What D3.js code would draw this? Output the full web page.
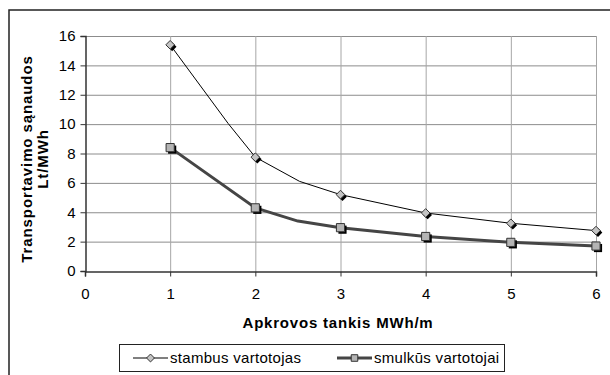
<!DOCTYPE html>
<html>
<head>
<meta charset="utf-8">
<script src="https://cdn.jsdelivr.net/npm/d3@7"></script>
<style>
  body { margin: 0; background: #fff; }
  svg { display: block; font-family: "Liberation Sans", Arial, sans-serif; }
</style>
</head>
<body>
<svg id="chart" width="610" height="375"></svg>
<script>
// stambus vartotojas (line passes a couple of unmarked bend points)
const stambusX = [1, 1.68, 2, 2.52, 3, 4, 5, 6];
const stambusY = [15.4, 10.05, 7.75, 6.1, 5.2, 3.95, 3.25, 2.75];
// smulkus vartotojai
const smulkusX = [1, 2, 2.5, 3, 4, 5, 6];
const smulkusY = [8.4, 4.3, 3.4, 2.95, 2.35, 1.95, 1.7];

const xTicks = [0, 1, 2, 3, 4, 5, 6];
const yTicks = [0, 2, 4, 6, 8, 10, 12, 14, 16];
const legendLabels = ['stambus vartotojas', 'smulkūs vartotojai'];

const svg = d3.select('#chart');
const margin = { top: 36, right: 14, bottom: 104, left: 85 };
const width = 610, height = 375;

const x = d3.scaleLinear().domain([0, 6]).range([margin.left, width - margin.right]);
const y = d3.scaleLinear().domain([0, 16]).range([height - margin.bottom, margin.top]);

// outer frame
svg.append('rect')
  .attr('x', 9).attr('y', 10)
  .attr('width', 620).attr('height', 400)
  .attr('fill', 'none').attr('stroke', '#222').attr('stroke-width', 1.5);

// grid
const grid = svg.append('g');
grid.selectAll('.hg').data(yTicks.filter(d => d > 0)).join('line')
  .attr('x1', x(0)).attr('x2', x(6))
  .attr('y1', d => y(d) + 0.5).attr('y2', d => y(d) + 0.5)
  .attr('stroke', '#8c8c8c').attr('stroke-width', 1);
grid.selectAll('.vg').data(xTicks.filter(d => d > 0)).join('line')
  .attr('x1', d => x(d) + 0.5).attr('x2', d => x(d) + 0.5)
  .attr('y1', y(16)).attr('y2', y(0))
  .attr('stroke', '#a6a6a6').attr('stroke-width', 1);

// axes
const xAxis = svg.append('g')
  .attr('transform', `translate(0,${y(0) + 0.5})`)
  .call(d3.axisBottom(x).tickValues(xTicks).tickSize(5).tickPadding(12).tickFormat(d3.format('d')));
const yAxis = svg.append('g')
  .attr('transform', `translate(${x(0) + 0.5},0)`)
  .call(d3.axisLeft(y).tickValues(yTicks).tickSize(5).tickPadding(5).tickFormat(d3.format('d')));
[xAxis, yAxis].forEach(g => {
  g.select('.domain').attr('stroke', '#333').attr('stroke-width', 1.5);
  g.selectAll('.tick line').attr('stroke', '#333');
  g.selectAll('.tick text').attr('fill', '#000').style('font-size', '15px')
    .style('font-family', '"Liberation Sans", Arial, sans-serif');
});

// axis titles
svg.append('text')
  .attr('x', 338).attr('y', 328)
  .attr('text-anchor', 'middle')
  .style('font-size', '15px').style('font-weight', 'bold')
  .style('letter-spacing', '0.8px')
  .text('Apkrovos tankis MWh/m');
const yTitle = svg.append('text')
  .attr('transform', 'translate(32,159) rotate(-90)')
  .attr('text-anchor', 'middle')
  .style('font-size', '15px').style('font-weight', 'bold')
  .style('letter-spacing', '0.9px');
yTitle.append('tspan').attr('x', 0).attr('y', 0).text('Transportavimo sąnaudos');
yTitle.append('tspan').attr('x', 0).attr('y', 16).text('Lt/MWh');

// lines
const stambus = stambusX.map((v, i) => ({ x: v, y: stambusY[i] }));
const smulkus = smulkusX.map((v, i) => ({ x: v, y: smulkusY[i] }));
const line = d3.line().x(d => x(d.x)).y(d => y(d.y));

svg.append('path').datum(smulkus)
  .attr('d', line).attr('fill', 'none')
  .attr('stroke', '#454545').attr('stroke-width', 3)
  .attr('stroke-linejoin', 'round');
svg.append('path').datum(stambus)
  .attr('d', line).attr('fill', 'none')
  .attr('stroke', '#000').attr('stroke-width', 1)
  .attr('stroke-linejoin', 'round');

// markers (only at whole x values)
const diamond = d3.symbol().type(d3.symbolDiamond2).size(48);
const square = d3.symbol().type(d3.symbolSquare2).size(85);

function markers(data, sym, fill) {
  const g = svg.append('g');
  const pts = data.filter(d => Number.isInteger(d.x));
  g.selectAll('.sh').data(pts).join('path')
    .attr('d', sym)
    .attr('transform', d => `translate(${x(d.x) + 2},${y(d.y) + 2})`)
    .attr('fill', '#000');
  g.selectAll('.mk').data(pts).join('path')
    .attr('d', sym)
    .attr('transform', d => `translate(${x(d.x)},${y(d.y)})`)
    .attr('fill', fill).attr('stroke', '#333').attr('stroke-width', 1);
}
markers(smulkus, square, '#b4b4b4');
markers(stambus, diamond, '#c4c4c4');

// legend
const lg = svg.append('g');
lg.append('rect')
  .attr('x', 119.5).attr('y', 344.5).attr('width', 385).attr('height', 27)
  .attr('fill', '#fff').attr('stroke', '#222').attr('stroke-width', 1);
const items = [
  { label: legendLabels[0], x0: 133, sym: d3.symbol().type(d3.symbolDiamond2).size(40), fill: '#c4c4c4', w: 1, c: '#000' },
  { label: legendLabels[1], x0: 337, sym: d3.symbol().type(d3.symbolSquare2).size(55), fill: '#b4b4b4', w: 3, c: '#454545' }
];
items.forEach(it => {
  lg.append('line')
    .attr('x1', it.x0).attr('x2', it.x0 + 35)
    .attr('y1', 358).attr('y2', 358)
    .attr('stroke', it.c).attr('stroke-width', it.w);
  lg.append('path')
    .attr('d', it.sym())
    .attr('transform', `translate(${it.x0 + 17.5},358)`)
    .attr('fill', it.fill).attr('stroke', '#333');
  lg.append('text')
    .attr('x', it.x0 + 37).attr('y', 363)
    .style('font-size', '15px')
    .style('letter-spacing', '0.3px')
    .text(it.label);
});
</script>
</body>
</html>
